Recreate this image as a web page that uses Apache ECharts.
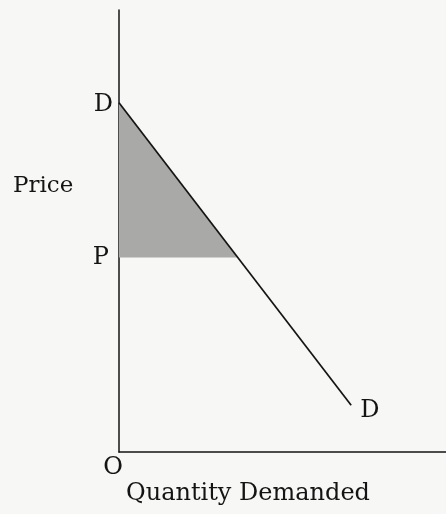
<!DOCTYPE html>
<html>
<head>
<meta charset="utf-8">
<script src="https://cdn.jsdelivr.net/npm/echarts@6/dist/echarts.min.js"></script>
<style>
  html, body { margin: 0; padding: 0; background: #f7f7f5; }
  #main { width: 446px; height: 514px; }
</style>
</head>
<body>
<div id="main"></div>
<script>
// demand curve end points (quantity, price)
var demandQ = [0, 7.1];
var demandP = [7.9, 1.06];
// market price level
var priceP = 4.4;
// quantity where the price line meets the demand curve
var surplusQ = 3.63;

var chart = echarts.init(document.getElementById('main'), null, { renderer: 'canvas' });

var serif = 'DejaVu Serif';
var ink = '#141414';

var demandData = [[demandQ[0], demandP[0]], [demandQ[1], demandP[1]]];
var surplusData = [[0, demandP[0]], [0, priceP], [surplusQ, priceP]];

var option = {
  backgroundColor: '#f7f7f5',
  animation: false,
  grid: { left: 119, right: 0, top: 10, bottom: 62 },
  xAxis: {
    type: 'value', min: 0, max: 10,
    axisLine: { show: true, lineStyle: { color: ink, width: 1.5 } },
    axisTick: { show: false }, axisLabel: { show: false }, splitLine: { show: false }
  },
  yAxis: {
    type: 'value', min: 0, max: 10,
    axisLine: { show: true, lineStyle: { color: ink, width: 1.5 } },
    axisTick: { show: false }, axisLabel: { show: false }, splitLine: { show: false }
  },
  series: [
    {
      // consumer surplus triangle
      type: 'custom',
      data: surplusData,
      renderItem: function (params, api) {
        if (params.dataIndex > 0) return;
        var pts = surplusData.map(function (d) { return api.coord(d); });
        return {
          type: 'polygon',
          shape: { points: pts },
          style: { fill: '#a9a9a7' }
        };
      },
      z: 1
    },
    {
      type: 'line',
      data: demandData,
      symbol: 'none',
      lineStyle: { color: ink, width: 1.7 },
      z: 2
    },
    {
      type: 'scatter',
      symbolSize: 0,
      itemStyle: { opacity: 1 },
      data: [
        { value: demandData[0], label: { formatter: 'D', position: 'left', distance: 6, offset: [0, 2] } },
        { value: demandData[1], label: { formatter: 'D', position: 'right', distance: 9, offset: [0, 6] } },
        { value: [0, priceP], label: { formatter: 'P', position: 'left', distance: 10 } },
        { value: [0, 0], label: { formatter: 'O', position: 'bottom', distance: 4, offset: [-6, 0] } }
      ],
      label: { show: true, color: ink, fontFamily: serif, fontSize: 24 },
      z: 3
    }
  ],
  graphic: [
    { type: 'text', left: 13, top: 175, style: { text: 'Price', font: '23px "DejaVu Serif"', fill: ink } },
    { type: 'text', left: 126, top: 482, style: { text: 'Quantity Demanded', font: '24px "DejaVu Serif"', fill: ink } }
  ]
};

chart.setOption(option);

window.addEventListener('resize', function () {
  chart.resize();
});
</script>
</body>
</html>
